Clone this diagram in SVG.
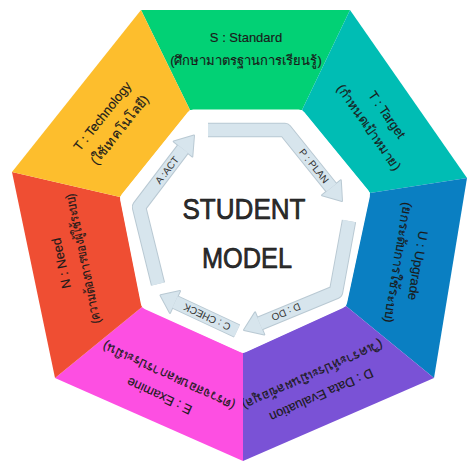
<svg xmlns="http://www.w3.org/2000/svg" width="470" height="462" viewBox="0 0 470 462">
<style>
.lbl{font-family:"Liberation Sans","Noto Sans","DejaVu Sans",sans-serif;font-size:13px;fill:#1a1a1a;stroke:#1a1a1a;stroke-width:0.15;text-anchor:middle;dominant-baseline:central}
.atx{font-family:"Liberation Sans","DejaVu Sans",sans-serif;font-size:10px;fill:#333;text-anchor:middle;dominant-baseline:central}
.ctr{font-family:"Liberation Sans","DejaVu Sans",sans-serif;font-size:30px;fill:#2e2e2e;stroke:#111;stroke-width:0.7;text-anchor:middle}
.bandO{fill:none;stroke:#b9c9d3;stroke-width:14.5;stroke-linejoin:round}
.band{fill:none;stroke:#d7e5ed;stroke-width:12.5;stroke-linejoin:round}
.headO{fill:#b9c9d3;stroke:#b9c9d3;stroke-width:2;stroke-linejoin:round}
.head{fill:#d7e5ed}
</style>
<rect width="470" height="462" fill="#ffffff"/>
<g id="segments">
<g id="seg-standard"><polygon points="141,10 350,10 302,110 190,110" fill="#02d175"/>
<text class="lbl" x="246" y="37">S : Standard</text>
<text class="lbl" x="246" y="60">(ศึกษามาตรฐานการเรียนรู้)</text></g>
<g id="seg-target"><polygon points="350,10 467,178 370,193 302,110" fill="#00bdb4"/>
<g transform="translate(378,121) rotate(55)"><text class="lbl" x="0" y="-11">T : Target</text><text class="lbl" x="0" y="11">(กำหนดเป้าหมาย)</text></g></g>
<g id="seg-upgrade"><polygon points="467,178 434,378 346,306 370,193" fill="#0a7fc2"/>
<g transform="translate(408,264) rotate(99)"><text class="lbl" x="0" y="-10">U : Upgrade</text><text class="lbl" x="0" y="10">(ยกระดับการใช้ระบบ)</text></g></g>
<g id="seg-data"><polygon points="434,378 243,461 243,353 346,306" fill="#7a52d6"/>
<g transform="translate(317,385) rotate(156)"><text class="lbl" x="0" y="-11">D : Data Evaluation</text><text class="lbl" x="0" y="11">(วิเคราะห์ประเมินผลข้อมูล)</text></g></g>
<g id="seg-examine"><polygon points="243,461 55,378 142,307 243,353" fill="#fd4fe2"/>
<g transform="translate(164,386) rotate(205)"><text class="lbl" x="0" y="-11">E : Examine</text><text class="lbl" x="0" y="11">(ตรวจสอบผลการประเมิน)</text></g></g>
<g id="seg-need"><polygon points="55,378 12,172 120,197 142,307" fill="#ef4e33"/>
<g transform="translate(72,261) rotate(-101.8)"><text class="lbl" x="0" y="-11">N : Need</text><text class="lbl" x="0" y="11" textLength="132" lengthAdjust="spacingAndGlyphs">(ความต้องการของผู้ใช้ระบบ)</text></g></g>
<g id="seg-technology"><polygon points="12,172 141,10 190,110 120,197" fill="#fdbe2d"/>
<g transform="translate(111,123) rotate(-51.5)"><text class="lbl" x="0" y="-11">T : Technology</text><text class="lbl" x="0" y="11">(ใช้เทคโนโลยี)</text></g></g>
</g>
<g id="inner">
<polygon points="193.3,117.1 298.6,117 362.5,195.1 339.8,301.2 243.1,345.2 148.2,302.3 127.6,198.9" fill="#ffffff" stroke="#ffffff" stroke-width="15" stroke-linejoin="round"/>
<text class="ctr" x="244" y="219" textLength="123" lengthAdjust="spacingAndGlyphs">STUDENT</text>
<text class="ctr" x="247" y="268" textLength="90" lengthAdjust="spacingAndGlyphs">MODEL</text>
</g>
<g id="connectors">
<g id="arrow-act">
<polyline class="bandO" points="158,284 139,207 183,149"/>
<polygon class="headO" points="192.3,156.6 173.7,141.4 194,135.5"/>
<polyline class="band" points="158,284 139,207 183,149"/>
<polygon class="head" points="192.3,156.6 173.7,141.4 194,135.5"/>
<text class="atx" transform="translate(167,170) rotate(-52)">A :ACT</text>
</g>
<g id="arrow-plan">
<polyline class="bandO" points="208,130 285,130 331.4,187.7"/>
<polygon class="headO" points="340.8,180.2 322,195.2 342,201"/>
<polyline class="band" points="208,130 285,130 331.4,187.7"/>
<polygon class="head" points="340.8,180.2 322,195.2 342,201"/>
<text class="atx" transform="translate(314,166) rotate(51)">P : PLAN</text>
</g>
<g id="arrow-do">
<polyline class="bandO" points="349,221 336,292 259.7,323.5"/>
<polygon class="headO" points="264.3,334.6 255.1,312.4 244,330"/>
<polyline class="band" points="349,221 336,292 259.7,323.5"/>
<polygon class="head" points="264.3,334.6 255.1,312.4 244,330"/>
<text class="atx" transform="translate(286,312) rotate(157)">D : DO</text>
</g>
<g id="arrow-check">
<polyline class="bandO" points="237,331 175,302"/>
<polygon class="headO" points="180,291.1 170,312.9 160.5,295.3"/>
<polyline class="band" points="237,331 175,302"/>
<polygon class="head" points="180,291.1 170,312.9 160.5,295.3"/>
<text class="atx" transform="translate(207,317) rotate(205)">C : CHECK</text>
</g>
</g>
</svg>
